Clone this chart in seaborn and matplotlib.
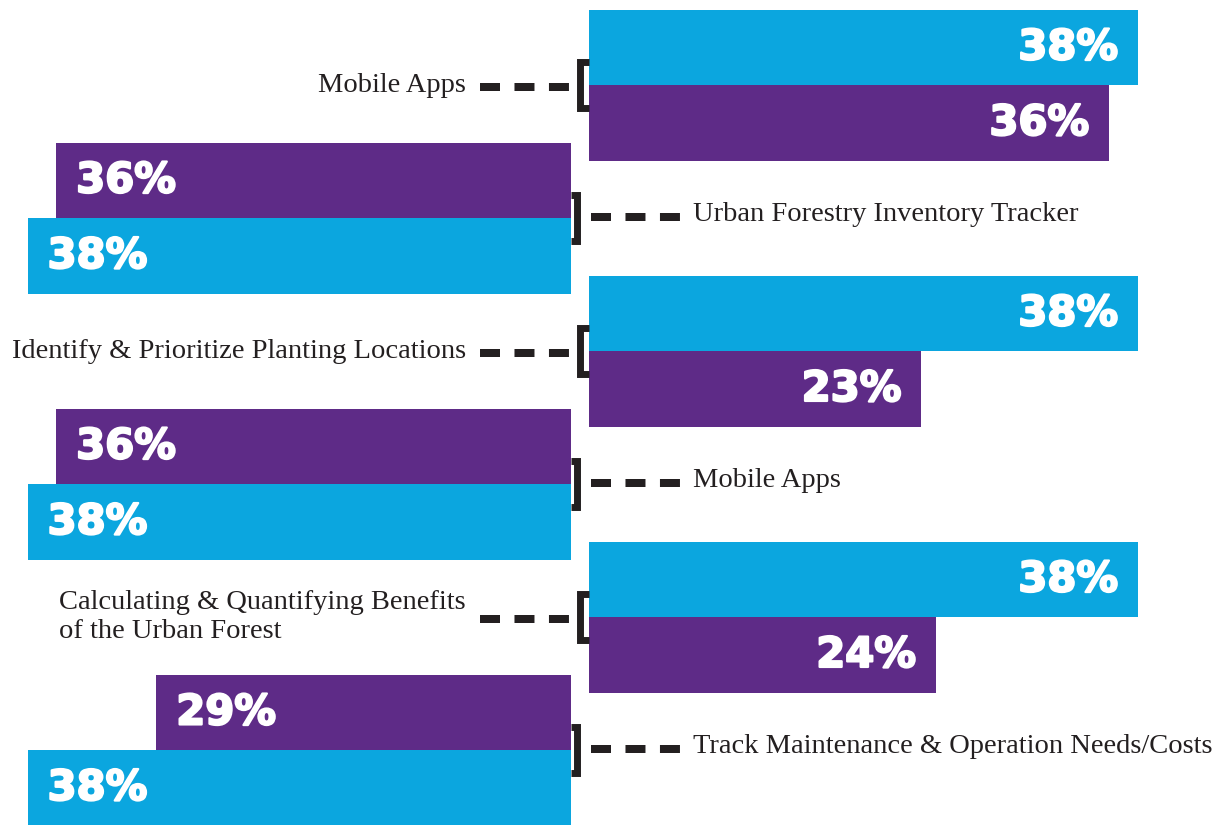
import matplotlib
matplotlib.use("Agg")
import matplotlib.pyplot as plt
import matplotlib.patheffects as pe
import seaborn as sns
import pandas as pd

# ---------------- data ----------------
categories = [
    "Mobile Apps",
    "Urban Forestry Inventory Tracker",
    "Identify & Prioritize Planting Locations",
    "Mobile Apps",
    "Calculating & Quantifying Benefits\nof the Urban Forest",
    "Track Maintenance & Operation Needs/Costs",
]
cyan_values = [38, 38, 38, 38, 38, 38]
purple_values = [36, 36, 23, 36, 24, 29]
series_names = ["Series A", "Series B"]

# ---------------- style ----------------
CYAN = "#0BA6DF"
PURPLE = "#5E2B87"
INK = "#231F20"
palette = {series_names[0]: CYAN, series_names[1]: PURPLE}

sns.set_theme(style="white")
plt.rcParams["font.family"] = ["DejaVu Sans"]

W, H = 1231, 825
fig = plt.figure(figsize=(W / 100, H / 100), dpi=100)

# layout (pixels)
top0, pitch, bar_h = 9.7, 133.0, 75.5
r_start, l_end = 589, 571
px_pct_r, px_pct_l = 14.45, 14.3

rows = []
for g, (cat, c, p) in enumerate(zip(categories, cyan_values, purple_values)):
    side = "right" if g % 2 == 0 else "left"
    if side == "right":
        order = [(series_names[0], c), (series_names[1], p)]
    else:
        order = [(series_names[1], p), (series_names[0], c)]
    for k, (s, v) in enumerate(order):
        rows.append(dict(group=g, category=cat, side=side, series=s, value=v,
                         ypos=top0 + g * pitch + (k + 0.5) * bar_h))
df = pd.DataFrame(rows)

ax_r = fig.add_axes([r_start / W, 0, (W - r_start) / W, 1])
ax_l = fig.add_axes([0, 0, l_end / W, 1])

heavy = [pe.withStroke(linewidth=1.6, foreground="white")]
for ax, side in [(ax_r, "right"), (ax_l, "left")]:
    sub = df[df.side == side]
    sns.barplot(data=sub, x="value", y="ypos", hue="series", palette=palette,
                orient="h", native_scale=True, width=1.0, dodge=False,
                saturation=1, errorbar=None, legend=False, linewidth=0, ax=ax)
    ax.set_ylim(H, 0)
    ax.axis("off")
    for _, r in sub.iterrows():
        off = -14.4 if side == "right" else 14.4
        ax.annotate(f"{r.value}%", xy=(r.value, r.ypos), xytext=(off, 0),
                    textcoords="offset points",
                    ha="right" if side == "right" else "left", va="center",
                    color="white", fontsize=30, fontweight="bold",
                    path_effects=heavy)

ax_r.set_xlim(0, (W - r_start) / px_pct_r)
ax_l.set_xlim(l_end / px_pct_l, 0)

# overlay for connectors and labels
ax_o = fig.add_axes([0, 0, 1, 1])
ax_o.set_xlim(0, W)
ax_o.set_ylim(H, 0)
ax_o.axis("off")
ax_o.patch.set_alpha(0)

half = 23
serif = ["Liberation Serif", "DejaVu Serif"]
for g, cat in enumerate(categories):
    b = top0 + g * pitch + bar_h
    if g % 2 == 0:
        vx = 580
        ax_o.plot([r_start, vx, vx, r_start], [b - half, b - half, b + half, b + half],
                  color=INK, lw=5.0, solid_joinstyle="miter", solid_capstyle="butt")
        ax_o.plot([480, 569], [b + 2, b + 2], color=INK, lw=5.76,
                  dashes=(2.5, 1.81), dash_capstyle="butt")
        ax_o.text(466, b, cat, ha="right", va="center", multialignment="left",
                  fontsize=20.5, color=INK, family=serif)
    else:
        vx = 576.5
        ax_o.plot([l_end, vx, vx, l_end], [b - half, b - half, b + half, b + half],
                  color=INK, lw=5.0, solid_joinstyle="miter", solid_capstyle="butt")
        ax_o.plot([591, 680], [b - 1, b - 1], color=INK, lw=5.76,
                  dashes=(2.5, 1.81), dash_capstyle="butt")
        ax_o.text(693, b - 4, cat, ha="left", va="center",
                  fontsize=20.5, color=INK, family=serif)

fig.savefig("out.png", dpi=100, facecolor="white")
